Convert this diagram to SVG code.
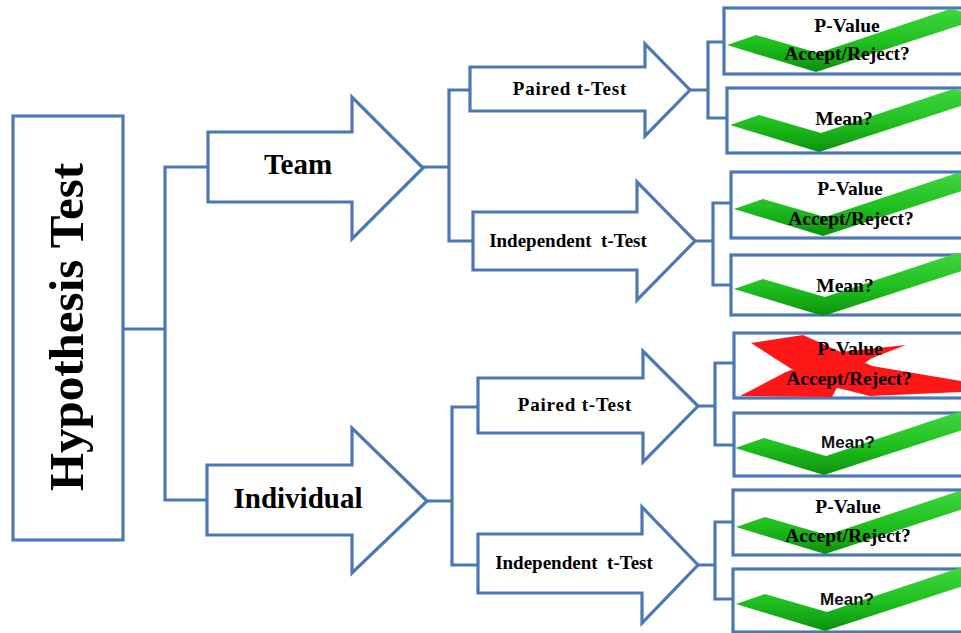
<svg xmlns="http://www.w3.org/2000/svg" width="961" height="633" viewBox="0 0 961 633">
  <defs>
    <linearGradient id="tickFill" x1="0" y1="0" x2="0" y2="1">
      <stop offset="0" stop-color="#3fd63f"/>
      <stop offset="0.55" stop-color="#1fbf1f"/>
      <stop offset="1" stop-color="#0c920c"/>
    </linearGradient>
    <filter id="soft" x="-5%" y="-10%" width="110%" height="120%">
      <feGaussianBlur stdDeviation="0.7"/>
    </filter>
    <!-- tick mark in box-local coordinates (origin = box top-left) -->
    <path id="tick" d="M3,37 L32,27 L94,45 L226,1 L252,6 L252,12 L92,64 Z"/>
  </defs>
  <style>
    .shape { fill: #ffffff; stroke: #4a78b4; stroke-width: 3.2; stroke-linejoin: miter; }
    .wire { fill: none; stroke: #4a78b4; stroke-width: 3.2; stroke-linecap: square; }
    .tick { fill: url(#tickFill); filter: url(#soft); }
    .cross { fill: #ff1414; filter: url(#soft); }
    .title { font-family: "Liberation Serif", "Times New Roman", serif; font-weight: bold; font-size: 49px; fill: #000; text-anchor: middle; }
    .branch { font-family: "Liberation Serif", "Times New Roman", serif; font-weight: bold; font-size: 29px; fill: #000; text-anchor: middle; }
    .test { font-family: "Liberation Serif", "Times New Roman", serif; font-weight: bold; font-size: 19px; fill: #000; text-anchor: middle; }
    .check { font-family: "Liberation Serif", "Times New Roman", serif; font-weight: bold; font-size: 19.5px; fill: #000; text-anchor: middle; }
    .checkSans { font-family: "Liberation Sans", Arial, sans-serif; font-weight: bold; font-size: 17px; fill: #111; text-anchor: middle; }
  </style>

  <rect width="961" height="633" fill="#ffffff"/>

  <!-- connectors -->
  <g id="connectors" class="wire">
    <path d="M123,329 H165 M165,167 V500 M165,167 H208 M165,500 H207"/>
    <path d="M423,167 H449 M449,90 V241 M449,90 H470 M449,241 H473"/>
    <path d="M427,501 H452 M452,407 V565 M452,407 H478 M452,565 H478"/>
    <path d="M690,90 H708 M708,42 V118 M708,42 H724 M708,118 H727"/>
    <path d="M695,241 H713 M713,203 V285 M713,203 H731 M713,285 H731"/>
    <path d="M698,406 H715 M715,363 V445 M715,363 H734 M715,445 H734"/>
    <path d="M698,565 H715 M715,522 V599 M715,522 H733 M715,599 H733"/>
  </g>

  <!-- root -->
  <g id="hypothesis-test">
    <rect class="shape" x="13" y="116" width="110" height="424"/>
    <text class="title" transform="translate(83,327) rotate(-90)">Hypothesis Test</text>
  </g>

  <!-- first level -->
  <g id="team">
    <polygon class="shape" points="208,132 352,132 352,97 423,168 352,239 352,202 208,202"/>
    <text class="branch" x="298" y="174">Team</text>
  </g>
  <g id="individual">
    <polygon class="shape" points="207,465 352,465 352,428 427,501 352,573 352,535 207,535"/>
    <text class="branch" x="298" y="508">Individual</text>
  </g>

  <!-- second level -->
  <g id="team-paired">
    <polygon class="shape" points="470,67 645,67 645,44 690,90 645,136 645,111 470,111"/>
    <text class="test" x="570" y="95" letter-spacing="0.8">Paired t-Test</text>
  </g>
  <g id="team-independent">
    <polygon class="shape" points="473,212 637,212 637,182 695,241 637,300 637,270 473,270"/>
    <text class="test" x="568" y="247" xml:space="preserve">Independent  t-Test</text>
  </g>
  <g id="individual-paired">
    <polygon class="shape" points="478,378 643,378 643,351 698,406 643,462 643,433 478,433"/>
    <text class="test" x="575" y="411" letter-spacing="0.8">Paired t-Test</text>
  </g>
  <g id="individual-independent">
    <polygon class="shape" points="478,534 642,534 642,507 698,565 642,623 642,593 478,593"/>
    <text class="test" x="574" y="569" xml:space="preserve">Independent  t-Test</text>
  </g>

  <!-- outcome boxes -->
  <g id="team-paired-pvalue">
    <rect class="shape" x="724" y="8" width="260" height="66"/>
    <use href="#tick" class="tick" transform="translate(724,8)"/>
    <text class="check" x="847" y="32">P-Value</text>
    <text class="check" x="847" y="60">Accept/Reject?</text>
  </g>
  <g id="team-paired-mean">
    <rect class="shape" x="727" y="88" width="260" height="65"/>
    <use href="#tick" class="tick" transform="translate(727,88)"/>
    <text class="check" x="844" y="125">Mean?</text>
  </g>
  <g id="team-independent-pvalue">
    <rect class="shape" x="731" y="172" width="260" height="66"/>
    <use href="#tick" class="tick" transform="translate(731,172)"/>
    <text class="check" x="850" y="195">P-Value</text>
    <text class="check" x="851" y="225">Accept/Reject?</text>
  </g>
  <g id="team-independent-mean">
    <rect class="shape" x="731" y="255" width="260" height="60"/>
    <use href="#tick" class="tick" transform="translate(731,252)"/>
    <text class="check" x="845" y="292">Mean?</text>
  </g>
  <g id="individual-paired-pvalue">
    <rect class="shape" x="734" y="333" width="260" height="65"/>
    <path class="cross" d="M751,343 L803,335 L872,366 L961,381 L961,392 L870,396 L822,384 L790,368 Z"/>
    <path class="cross" d="M740,396 L786,372 L840,352 L906,345 L872,358 L842,378 L832,397 Z"/>
    <text class="check" x="850" y="355">P-Value</text>
    <text class="check" x="849" y="385">Accept/Reject?</text>
  </g>
  <g id="individual-paired-mean">
    <rect class="shape" x="734" y="413" width="260" height="63"/>
    <use href="#tick" class="tick" transform="translate(732,411)"/>
    <text class="checkSans" x="848" y="448">Mean?</text>
  </g>
  <g id="individual-independent-pvalue">
    <rect class="shape" x="733" y="490" width="260" height="65"/>
    <use href="#tick" class="tick" transform="translate(733,490)"/>
    <text class="check" x="848" y="513">P-Value</text>
    <text class="check" x="848" y="542">Accept/Reject?</text>
  </g>
  <g id="individual-independent-mean">
    <rect class="shape" x="733" y="569" width="260" height="63"/>
    <use href="#tick" class="tick" transform="translate(733,567)"/>
    <text class="checkSans" x="847" y="605">Mean?</text>
  </g>
</svg>
